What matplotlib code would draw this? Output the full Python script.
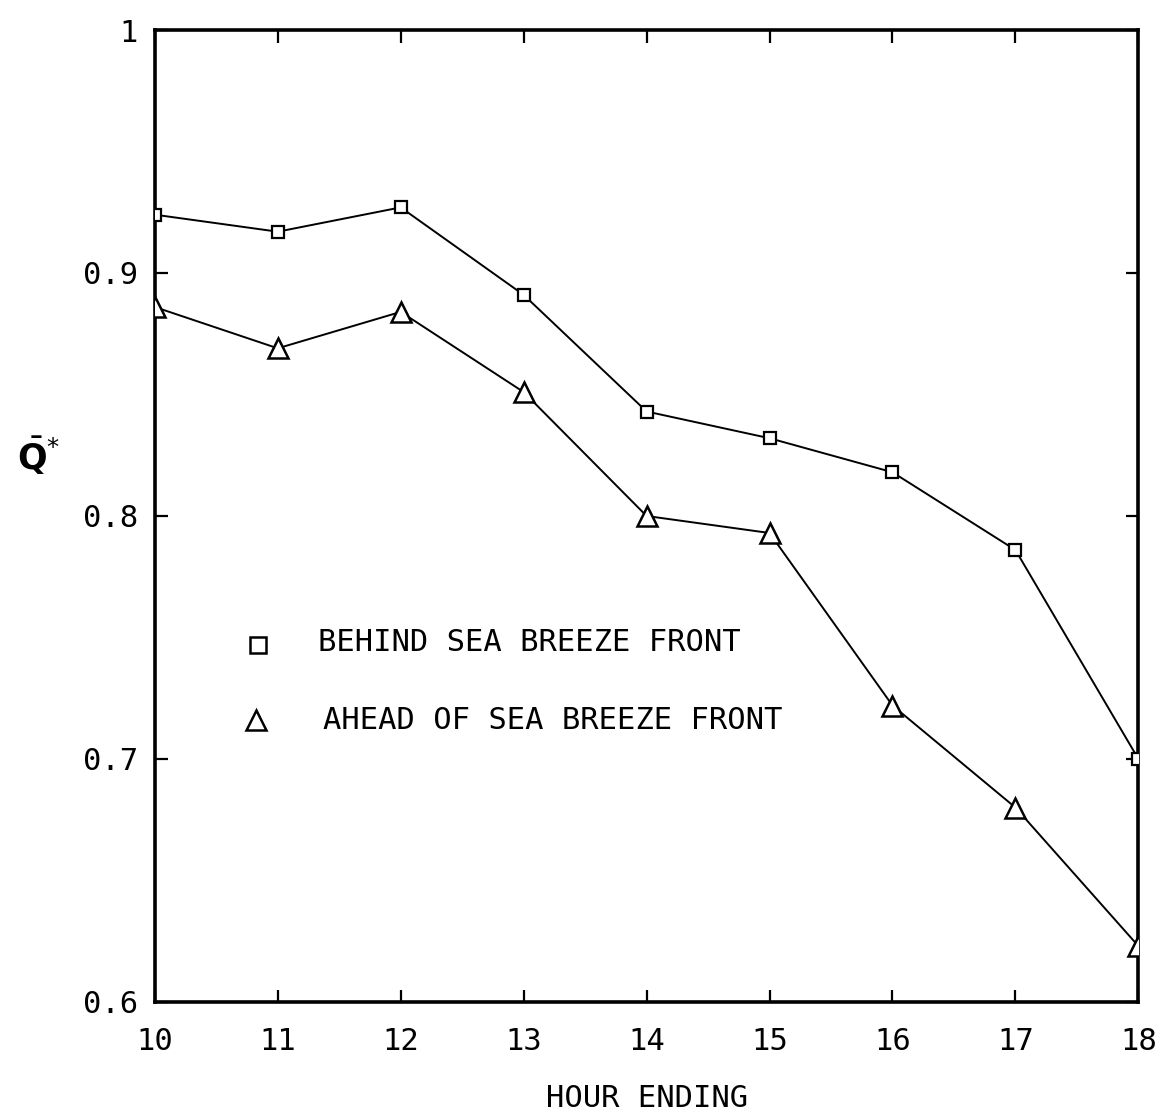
import matplotlib
matplotlib.use("Agg")
import matplotlib.pyplot as plt
from matplotlib.ticker import FixedLocator

hours = [10, 11, 12, 13, 14, 15, 16, 17, 18]
behind = [0.924, 0.917, 0.927, 0.891, 0.843, 0.832, 0.818, 0.786, 0.700]
ahead = [0.886, 0.869, 0.884, 0.851, 0.800, 0.793, 0.722, 0.680, 0.623]
y_ticks = [0.6, 0.7, 0.8, 0.9, 1.0]
y_tick_labels = ["0.6", "0.7", "0.8", "0.9", "1"]
legend_labels = ["BEHIND SEA BREEZE FRONT", "AHEAD OF SEA BREEZE FRONT"]

mono = "DejaVu Sans Mono"

fig = plt.figure(figsize=(11.64, 11.2), dpi=100)
ax = fig.add_axes([0.133, 0.1054, 0.845, 0.8678])

l1, = ax.plot(hours, behind, color="black", lw=1.4, marker="s", ms=9,
              mfc="white", mec="black", mew=1.6, zorder=3)
l2, = ax.plot(hours, ahead, color="black", lw=1.4, marker="^", ms=14,
              mfc="white", mec="black", mew=1.8, zorder=3)
for ln in (l1, l2):
    ln.set_clip_box(ax.bbox)
    ln.set_clip_path(ax.patch)

ax.set_xlim(10, 18)
ax.set_ylim(0.6, 1.0)
ax.xaxis.set_major_locator(FixedLocator(hours))
ax.yaxis.set_major_locator(FixedLocator(y_ticks))
ax.set_yticklabels(y_tick_labels)

ax.tick_params(direction="in", length=9, width=1.6, top=True, right=True,
               labelsize=22)
ax.tick_params(axis="x", pad=18)
ax.tick_params(axis="y", pad=12)
for lab in ax.get_xticklabels() + ax.get_yticklabels():
    lab.set_family(mono)

for sp in ax.spines.values():
    sp.set_linewidth(2.6)

ax.set_xlabel("HOUR ENDING", family=mono, fontsize=22, labelpad=20)
ax.set_ylabel(r"$\bar{\mathbf{Q}}^{*}$", fontsize=25, rotation=0, va="center")
ax.yaxis.set_label_coords(-0.118, 0.562)

# legend drawn as markers with text beside them
ax.plot([10.84], [0.747], marker="s", ms=11, mfc="white", mec="black",
        mew=1.8, ls="none")
ax.text(11.33, 0.748, legend_labels[0], family=mono, fontsize=22,
        va="center", ha="left")
ax.plot([10.82], [0.716], marker="^", ms=14, mfc="white", mec="black",
        mew=1.8, ls="none")
ax.text(11.37, 0.716, legend_labels[1], family=mono, fontsize=22,
        va="center", ha="left")

fig.savefig("out.png", dpi=100, facecolor="white")
